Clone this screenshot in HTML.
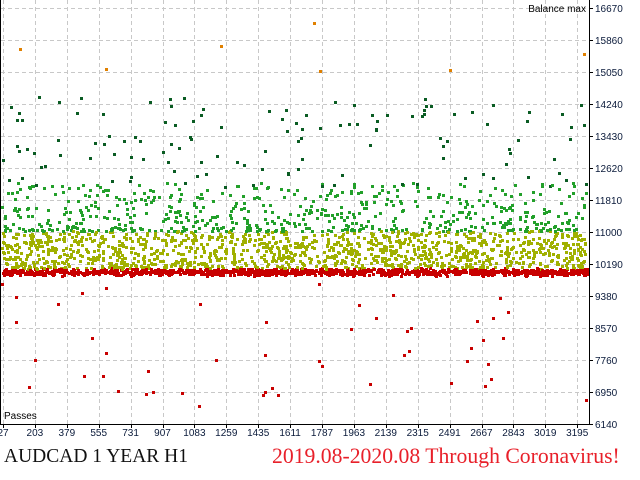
<!DOCTYPE html>
<html><head><meta charset="utf-8"><style>
body{margin:0;background:#fff;width:640px;height:480px;overflow:hidden;position:relative;font-family:"Liberation Sans",sans-serif}
svg{position:absolute;left:0;top:0}
.t{position:absolute;font-family:"Liberation Serif",serif;white-space:nowrap}
</style></head><body>
<svg id="s" width="640" height="480" xmlns="http://www.w3.org/2000/svg">
<g id="grid" stroke="#c8c8c8" stroke-dasharray="4,3" stroke-width="1"></g>
<g id="pts"></g>
<line x1="0.5" y1="0" x2="0.5" y2="424" stroke="#000"/>
<line x1="589.5" y1="0" x2="589.5" y2="425" stroke="#000"/>
<line x1="0" y1="424.5" x2="590" y2="424.5" stroke="#000"/>
<g id="lab" font-size="10" fill="#0a1a3a"></g>
<text x="4" y="419" font-size="10" fill="#000">Passes</text>
<text x="586" y="12" font-size="10" fill="#000" text-anchor="end">Balance max</text>
</svg>
<div class="t" style="left:4px;top:446px;font-size:19.5px;color:#111">AUDCAD 1 YEAR H1</div>
<div class="t" style="left:272px;top:444px;font-size:21.7px;color:#e8202a">2019.08-2020.08 Through Coronavirus!</div>
<script>
var NS="http://www.w3.org/2000/svg";
function el(p,t,a,txt){var e=document.createElementNS(NS,t);for(var k in a)e.setAttribute(k,a[k]);if(txt)e.textContent=txt;p.appendChild(e);return e;}
var g=document.getElementById('grid'),lab=document.getElementById('lab'),pts=document.getElementById('pts');
var yv=[16670,15860,15050,14240,13430,12620,11810,11000,10190,9380,8570,7760,6950,6140];
for(var i=0;i<yv.length;i++){var y=8+32*i;if(i<13)el(g,'line',{x1:1,y1:y+.5,x2:589,y2:y+.5});
el(lab,'line',{x1:589,y1:y+.5,x2:593,y2:y+.5,stroke:'#000'});el(lab,'text',{x:595,y:y+4},String(yv[i]));}
for(var k=0;k<19;k++){var x=3+31.9*k;var xv=27+176*k;el(g,'line',{x1:Math.round(x)+.5,y1:0,x2:Math.round(x)+.5,y2:424});
el(lab,'line',{x1:Math.round(x)+.5,y1:424,x2:Math.round(x)+.5,y2:428,stroke:'#000'});el(lab,'text',{x:x,y:436,'text-anchor':'middle'},String(xv));}
var seed=12345;function r(){seed=(seed*1103515245+12345)&0x7fffffff;return seed/0x7fffffff;}
function add(x,y,c){el(pts,'rect',{x:Math.round(x),y:Math.round(y),width:3,height:3,fill:c});}
var N=3200;
for(var i=0;i<N;i++){var x=1+r()*585;var p=r(),y,c;
if(p<0.36){y=271+(r()+r()-1)*4;c='#c80000';}
else if(p<0.76){y=230+Math.pow(r(),0.85)*38;c='#a0b000';}
else if(p<0.945){y=230-Math.pow(r(),1.7)*48;c='#22a02a';}
else if(p<0.98){y=186-Math.pow(r(),1.2)*90;c='#0a5c23';}
else {y=282+Math.pow(r(),0.9)*125;c='#c80000';}
add(x,y,c);}
[[19,48],[105,68],[220,45],[313,22],[319,70],[449,69],[583,53]].forEach(function(a){add(a[0],a[1],'#e08000');});
</script>
</body></html>
